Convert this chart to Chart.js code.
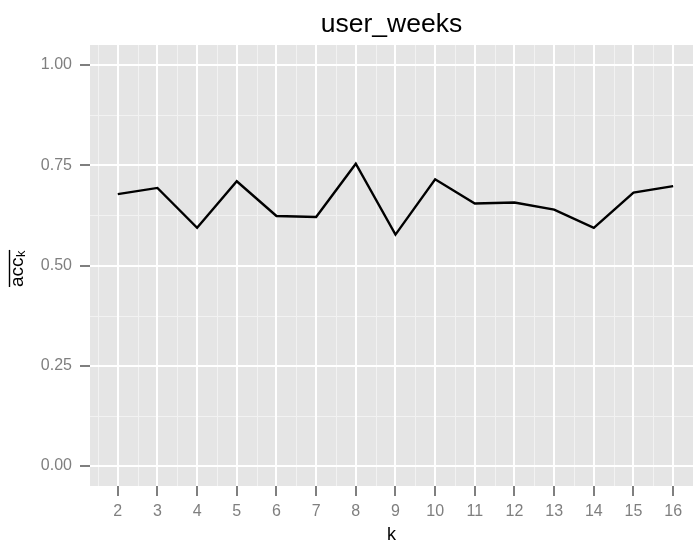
<!DOCTYPE html>
<html>
<head>
<meta charset="utf-8">
<script src="https://cdn.jsdelivr.net/npm/chart.js@4/dist/chart.umd.min.js"></script>
<style>
  html, body { margin: 0; padding: 0; background: #ffffff; }
  #wrap { width: 693px; height: 543px; }
</style>
</head>
<body>
<div id="wrap"><canvas id="c" width="693" height="543"></canvas></div>
<script>
// Number of groups k and the mean accuracy at each k
const kValues = [2, 3, 4, 5, 6, 7, 8, 9, 10, 11, 12, 13, 14, 15, 16];
const accMean = [0.678, 0.6935, 0.594, 0.710, 0.6235, 0.621, 0.754, 0.577, 0.715, 0.6545, 0.657, 0.6395, 0.594, 0.682, 0.698];
const xTicks = kValues;
const yTicks = [0.00, 0.25, 0.50, 0.75, 1.00];
const chartTitle = 'user_weeks';
const xTitle = 'k';

const FONT = "'Liberation Sans', Arial, Helvetica, sans-serif";
const PANEL_BG = '#E5E5E5';
const MINOR = '#F2F2F2';
const AXIS_GREY = '#7F7F7F';

// Grey panel with the lighter minor grid lines halfway between ticks
const panelPlugin = {
  id: 'panel',
  beforeDraw(chart) {
    const { ctx, chartArea: a, scales: { x, y } } = chart;
    ctx.save();
    ctx.fillStyle = PANEL_BG;
    ctx.fillRect(a.left, a.top, a.right - a.left, a.bottom - a.top);
    ctx.strokeStyle = MINOR;
    ctx.lineWidth = 1;
    const xm = [xTicks[0] - 0.5].concat(xTicks.map(v => v + 0.5));
    xm.forEach(v => {
      const px = Math.round(x.getPixelForValue(v)) + 0.5;
      if (px < a.left || px > a.right) return;
      ctx.beginPath(); ctx.moveTo(px, a.top); ctx.lineTo(px, a.bottom); ctx.stroke();
    });
    for (let i = 0; i < yTicks.length - 1; i++) {
      const v = (yTicks[i] + yTicks[i + 1]) / 2;
      const py = Math.round(y.getPixelForValue(v)) + 0.5;
      ctx.beginPath(); ctx.moveTo(a.left, py); ctx.lineTo(a.right, py); ctx.stroke();
    }
    ctx.restore();
  }
};

// Plot title, x-axis title and the overlined y-axis title with subscript
const titlesPlugin = {
  id: 'titles',
  afterDraw(chart) {
    const { ctx, chartArea: a } = chart;
    const cx = (a.left + a.right) / 2;
    ctx.save();
    ctx.fillStyle = '#000';
    ctx.textAlign = 'center';
    ctx.textBaseline = 'alphabetic';
    ctx.font = `26.5px ${FONT}`;
    ctx.fillText(chartTitle, cx, 31.5);
    ctx.font = `18px ${FONT}`;
    ctx.fillText(xTitle, cx, 540);

    // y title: acc with subscript k, overlined, rotated
    ctx.translate(23, 287);
    ctx.rotate(-Math.PI / 2);
    ctx.textAlign = 'left';
    ctx.font = `19px ${FONT}`;
    ctx.fillText('acc', 0, 0);
    const w1 = ctx.measureText('acc').width;
    ctx.font = `13px ${FONT}`;
    ctx.fillText('k', w1 + 0.5, 2);
    const w2 = ctx.measureText('k').width;
    ctx.strokeStyle = '#000';
    ctx.lineWidth = 1.4;
    ctx.beginPath();
    ctx.moveTo(0, -13.5);
    ctx.lineTo(w1 + w2 + 1, -13.5);
    ctx.stroke();
    ctx.restore();
  }
};

new Chart(document.getElementById('c'), {
  type: 'line',
  data: {
    datasets: [{
      data: kValues.map((k, i) => ({ x: k, y: accMean[i] })),
      borderColor: '#000000',
      borderWidth: 2.4,
      pointRadius: 0,
      tension: 0,
      fill: false
    }]
  },
  options: {
    responsive: false,
    animation: false,
    devicePixelRatio: 1,
    layout: { padding: { top: 45, left: 0, right: 0, bottom: 0 } },
    plugins: { legend: { display: false }, tooltip: { enabled: false }, title: { display: false } },
    scales: {
      x: {
        type: 'linear',
        min: 1.3,
        max: 16.5,
        afterBuildTicks: s => { s.ticks = xTicks.map(v => ({ value: v })); },
        afterFit: s => { s.height = 57; },
        border: { display: false },
        grid: { color: '#FFFFFF', lineWidth: 2, tickColor: AXIS_GREY, tickLength: 10, tickWidth: 2 },
        ticks: { color: AXIS_GREY, font: { family: FONT, size: 16 }, padding: 6, autoSkip: false, maxRotation: 0 }
      },
      y: {
        type: 'linear',
        min: -0.05,
        max: 1.05,
        afterBuildTicks: s => { s.ticks = yTicks.map(v => ({ value: v })); },
        afterFit: s => { s.width = 90; },
        border: { display: false },
        grid: { color: '#FFFFFF', lineWidth: 2, tickColor: AXIS_GREY, tickLength: 10, tickWidth: 2 },
        ticks: { color: AXIS_GREY, font: { family: FONT, size: 16 }, padding: 8, callback: v => v.toFixed(2) }
      }
    }
  },
  plugins: [panelPlugin, titlesPlugin]
});
</script>
</body>
</html>
